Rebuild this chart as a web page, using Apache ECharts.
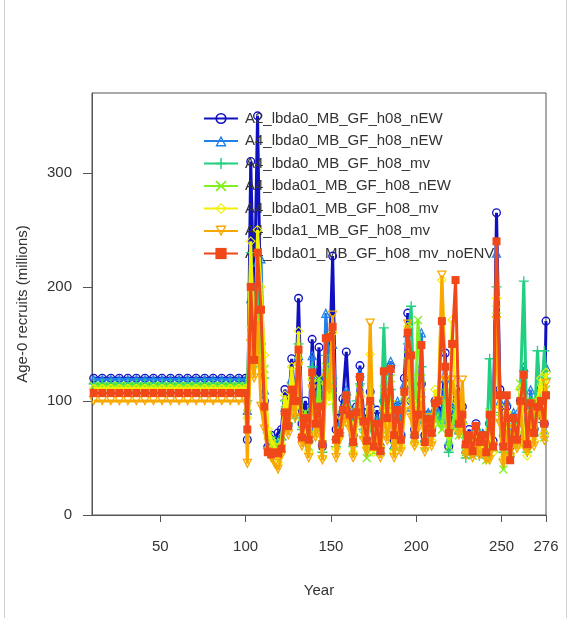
<!DOCTYPE html>
<html>
<head>
<meta charset="utf-8">
<script src="https://cdn.jsdelivr.net/npm/echarts@6/dist/echarts.min.js"></script>
<style>html,body{margin:0;padding:0;background:#fff;}#c{width:574px;height:618px;}</style>
</head>
<body>
<div id="c"></div>
<script>
const years = [11,16,21,26,31,36,41,46,51,56,61,66,71,76,81,86,91,96,100,
101,103,105,107,109,111,113,115,117,119,121,123,125,127,129,131,133,135,137,139,
141,143,145,147,149,151,153,155,157,159,161,163,165,167,169,171,173,175,177,179,
181,183,185,187,189,191,193,195,197,199,201,203,205,207,209,211,213,215,217,219,
221,223,225,227,229,231,233,235,237,239,241,243,245,247,249,251,253,255,257,259,
261,263,265,267,269,271,273,275,276];

const seriesNames = ['A2_lbda0_MB_GF_h08_nEW','A4_lbda0_MB_GF_h08_nEW','A4_lbda0_MB_GF_h08_mv',
'A4_lbda01_MB_GF_h08_nEW','A4_lbda01_MB_GF_h08_mv','A4_lbda1_MB_GF_h08_mv','A4_lbda01_MB_GF_h08_mv_noENV'];

const s1 = [120,120,120,120,120,120,120,120,120,120,120,120,120,120,120,120,120,120,120,
66,310,180,350,150,100,60,70,65,72,75,110,95,137,90,190,80,100,70,154,95,147,60,120,130,227,75,85,102,143,85,70,95,131,90,75,108,65,92,60,100,80,130,65,95,70,120,177,100,75,90,115,70,88,75,100,95,90,142,60,85,110,80,95,60,75,55,80,60,70,58,80,65,265,110,70,95,60,85,70,100,80,60,95,75,90,110,80,170];
const s2 = [119,119,119,119,119,119,119,119,119,119,119,119,119,119,119,119,119,119,119,
92,190,150,222,225,110,62,58,60,64,70,95,82,120,100,140,72,85,68,140,78,110,66,177,125,150,70,80,95,110,95,66,88,125,85,70,100,62,85,58,96,90,135,62,100,75,115,160,95,72,85,160,68,90,80,95,90,85,120,65,80,100,75,85,58,70,62,78,65,72,55,85,60,230,100,65,100,55,90,75,95,130,65,110,80,85,105,75,130];
const s3 = [115,115,115,115,115,115,115,115,115,115,115,115,115,115,115,115,115,115,115,
100,230,170,200,130,120,72,68,65,55,66,100,80,115,85,150,75,88,65,130,80,100,55,140,110,120,60,72,90,105,78,60,100,115,75,65,92,58,82,68,164,85,110,58,85,68,100,150,183,70,80,130,65,85,70,90,85,80,110,55,75,95,72,80,50,65,58,75,52,66,50,137,62,200,90,55,85,62,80,66,110,205,55,100,70,144,95,144,120];
const s4 = [113,113,113,113,113,113,113,113,113,113,113,113,113,113,113,113,113,113,113,
95,162,140,175,135,128,70,62,58,60,64,98,78,110,90,135,80,90,60,115,76,120,62,130,115,110,62,75,88,100,85,58,90,110,70,50,95,55,80,55,110,75,120,60,92,64,105,140,120,68,171,120,60,80,72,85,80,75,100,60,78,90,70,85,55,60,52,70,55,64,48,90,58,180,85,40,80,58,75,62,115,70,58,100,72,95,100,68,110];
const s5 = [111,111,111,111,111,111,111,111,111,111,111,111,111,111,111,111,111,111,111,
85,240,130,250,200,140,75,66,60,46,62,105,90,130,95,161,70,78,55,120,70,90,50,115,100,160,58,70,85,95,80,55,80,105,80,60,141,55,75,60,95,70,100,55,80,60,95,165,100,62,95,110,62,78,65,110,100,206,120,70,171,100,75,80,60,66,55,72,58,60,55,75,55,190,95,50,90,52,78,60,110,72,52,90,65,100,120,72,125];
const s6 = [100,100,100,100,100,100,100,100,100,100,100,100,100,100,100,100,100,100,100,
45,150,120,170,95,75,55,50,45,40,52,85,70,105,85,130,60,65,50,110,68,85,48,120,110,175,50,65,80,90,75,50,85,100,65,55,168,60,70,50,90,65,90,50,78,55,90,167,85,60,75,100,55,85,60,95,100,210,118,75,118,105,70,118,52,60,50,68,52,58,48,48,60,170,80,45,75,50,70,58,95,60,55,85,60,88,90,65,115];
const s7 = [107,107,107,107,107,107,107,107,107,107,107,107,107,107,107,107,107,107,107,
75,200,136,230,180,95,55,53,55,54,58,90,78,110,100,145,68,85,66,125,80,95,62,155,156,165,66,72,92,105,88,64,90,121,82,65,100,60,80,56,126,85,128,70,92,66,108,160,140,70,88,149,64,84,72,98,100,170,130,72,150,206,80,88,62,70,56,78,64,70,55,88,60,240,105,60,105,48,85,66,100,123,62,98,72,95,100,80,105];

const xTicks = [50,100,150,200,250,276];
const yTicks = [0,100,200,300];

const colors = ['#1010c0','#2080e8','#20d080','#80f020','#f0f000','#f8a800','#f04818'];
const symbols = [
  'path://M0,-5A5,5,0,1,1,0,5A5,5,0,1,1,0,-5Z M0,-3.5A3.5,3.5,0,1,0,0,3.5A3.5,3.5,0,1,0,0,-3.5Z',
  'path://M0,-6L5.2,3L-5.2,3Z M0,-3.5L-3.1,1.8L3.1,1.8Z',
  'path://M-0.8,-6H0.8V-0.8H6V0.8H0.8V6H-0.8V0.8H-6V-0.8H-0.8Z',
  'path://M-3.9,-5L0,-1.1L3.9,-5L5,-3.9L1.1,0L5,3.9L3.9,5L0,1.1L-3.9,5L-5,3.9L-1.1,0L-5,-3.9Z',
  'path://M0,-6L6,0L0,6L-6,0Z M0,-4.2L-4.2,0L0,4.2L4.2,0Z',
  'path://M0,6L-5.2,-3L5.2,-3Z M0,3.5L3.1,-1.8L-3.1,-1.8Z',
  'rect'
];
const sizes = [9,10,10,9,10,10,8];
const allData = [s1,s2,s3,s4,s5,s6,s7];

const font = 'Liberation Sans, Arial, Helvetica, sans-serif';
const chart = echarts.init(document.getElementById('c'), null, {renderer:'canvas'});
chart.setOption({
  animation: false,
  backgroundColor: '#ffffff',
  textStyle: {fontFamily: font},
  grid: {left: 92, right: 28, top: 93, bottom: 103, show: true, borderColor: '#555', borderWidth: 1, backgroundColor: 'transparent'},
  legend: {
    data: seriesNames, orient: 'vertical', left: 198, top: 106,
    itemWidth: 34, itemHeight: 14, itemGap: 7.5,
    textStyle: {fontSize: 15, color: '#333', fontFamily: font, padding: [0,0,0,2]},
    selectedMode: false
  },
  xAxis: {
    type: 'value', min: 10, max: 276,
    name: 'Year', nameLocation: 'middle', nameGap: 68,
    nameTextStyle: {fontSize: 15, color: '#333', fontFamily: font},
    axisLine: {show: true, lineStyle: {color: '#555'}},
    axisTick: {show: true, customValues: xTicks, length: 7, lineStyle: {color: '#555'}},
    axisLabel: {customValues: xTicks, margin: 24, fontSize: 15, color: '#333', fontFamily: font},
    splitLine: {show: false}
  },
  yAxis: {
    type: 'value', min: 0, max: 370,
    name: 'Age-0 recruits (millions)', nameLocation: 'middle', nameGap: 62,
    nameTextStyle: {fontSize: 15, color: '#333', fontFamily: font},
    axisLine: {show: true, lineStyle: {color: '#555'}},
    axisTick: {show: true, customValues: yTicks, length: 9, lineStyle: {color: '#555'}},
    axisLabel: {customValues: yTicks, margin: 20, fontSize: 15, color: '#333', fontFamily: font},
    splitLine: {show: false}
  },
  graphic: [
    {type: 'line', shape: {x1: 4.5, y1: 0, x2: 4.5, y2: 618}, style: {stroke: '#d0d0d0', lineWidth: 1}, silent: true},
    {type: 'line', shape: {x1: 566.5, y1: 0, x2: 566.5, y2: 618}, style: {stroke: '#d0d0d0', lineWidth: 1}, silent: true}
  ],
  series: allData.map((arr, i) => ({
    name: seriesNames[i],
    type: 'line',
    data: years.map((y, k) => [y, arr[k]]),
    symbol: symbols[i],
    symbolSize: sizes[i],
    showSymbol: true,
    showAllSymbol: true,
    clip: true,
    color: colors[i],
    lineStyle: {width: 3, color: colors[i]},
    itemStyle: {color: colors[i], borderWidth: 0},
    emphasis: {disabled: true},
    z: 2 + i
  }))
});
</script>
</body>
</html>
